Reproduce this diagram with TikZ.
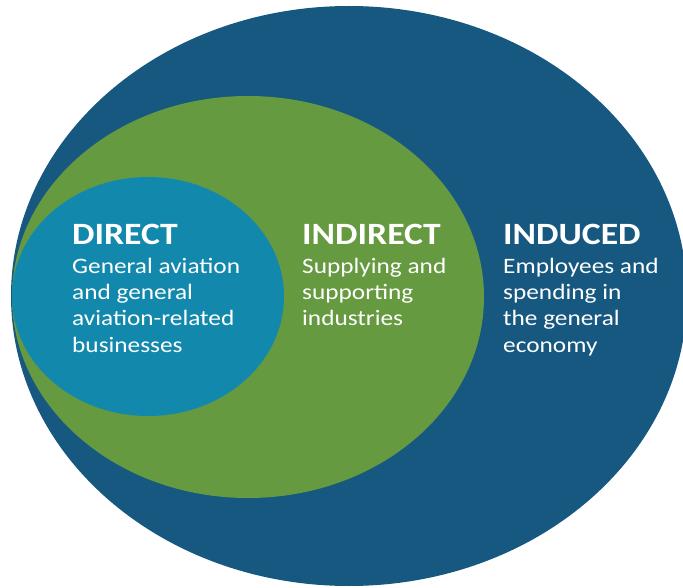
\documentclass[tikz,border=0pt]{standalone}
\usepackage{fontspec}
\setmainfont{Carlito}[FakeStretch=1.15]
\usetikzlibrary{shapes.geometric}
\definecolor{induced}{RGB}{22,88,128}
\definecolor{indirect}{RGB}{101,154,64}
\definecolor{direct}{RGB}{18,137,172}
\tikzset{
  zone/.style={ellipse, inner sep=0pt, outer sep=0pt, draw=none},
  head/.style={anchor=base west, inner sep=0pt, text=white, font=\fontsize{31}{31}\selectfont\bfseries},
  body/.style={anchor=base west, inner sep=0pt, text=white, align=left, font=\fontsize{22}{26.3}\selectfont}
}
\begin{document}
\begin{tikzpicture}[x=1pt,y=-1pt]
\useasboundingbox (0,0) rectangle (683,588);
\clip (0,0) rectangle (683,588);
\node[zone, fill=induced, minimum width=676pt, minimum height=580pt] (outer) at (349,296) {};
\node[zone, fill=indirect, minimum width=472pt, minimum height=402pt] (middle) at (248,297) {};
\node[zone, fill=direct, minimum width=272pt, minimum height=239pt] (inner) at (148,296.5) {};
\node[head] (dh) at (72,245) {DIRECT};
\node[body] (db) at (72,352) {General aviation\\and general\\aviation-related\\businesses};
\node[head] (ih) at (302,245) {INDIRECT};
\node[body] (ib) at (302,325.6) {Supplying and\\supporting\\industries};
\node[head] (uh) at (503,245) {INDUCED};
\node[body] (ub) at (503,352) {Employees and\\spending in\\the general\\economy};
\end{tikzpicture}
\end{document}
